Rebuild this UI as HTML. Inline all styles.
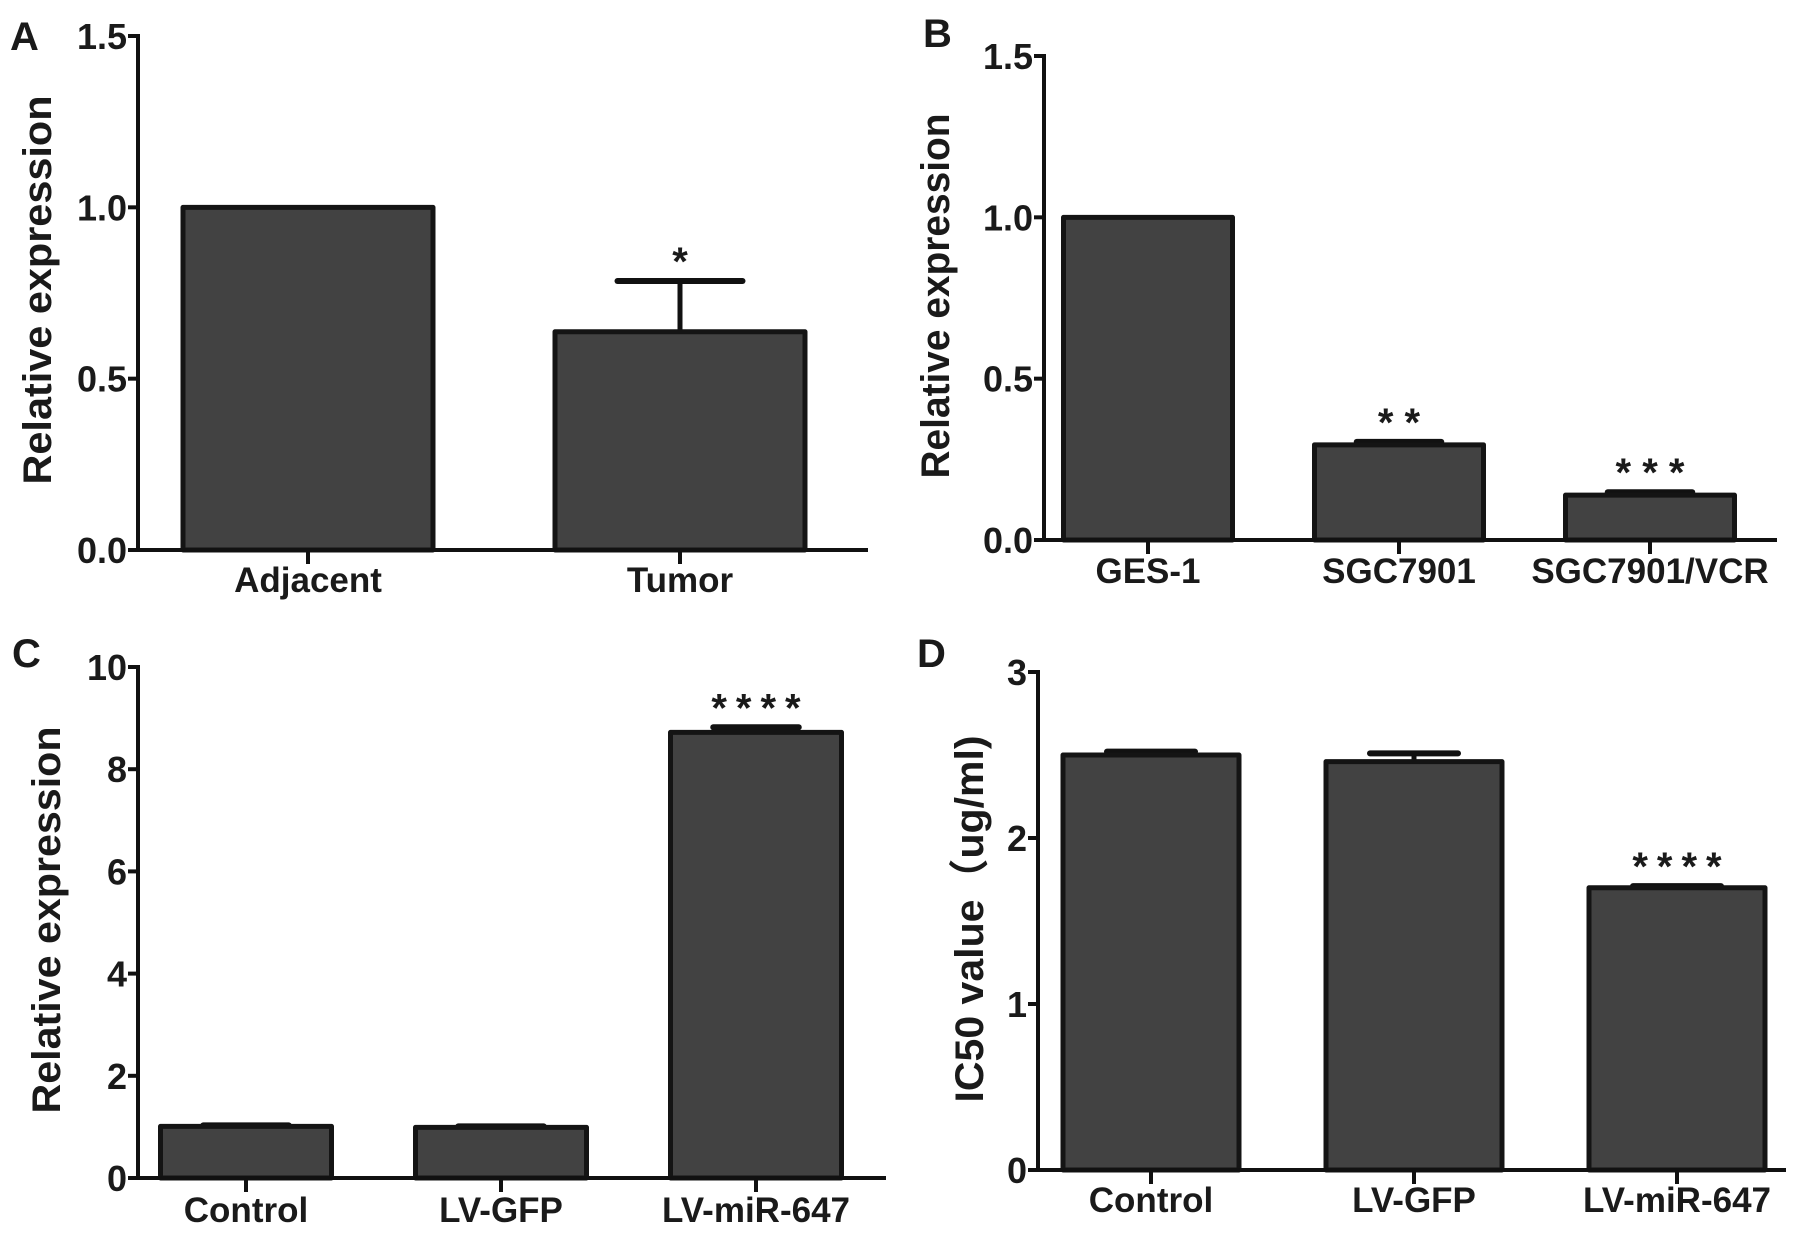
<!DOCTYPE html>
<html><head><meta charset="utf-8">
<style>
html,body{margin:0;padding:0;background:#fff;overflow:hidden;}
svg{display:block;}
text{font-family:"Liberation Sans","Noto Sans CJK SC",sans-serif;font-weight:bold;fill:#1a1a1a;}
</style></head>
<body>
<svg id="fig" width="1795" height="1235" viewBox="0 0 1795 1235"></svg>
<script>
// Panel A data
const aCategories = ["Adjacent", "Tumor"];
const aValues = [1.0, 0.637];
const aErrors = [0, 0.148];
const aStars = ["", "*"];
const aTicks = [0, 0.5, 1.0, 1.5];
const aTickLabels = ["0.0", "0.5", "1.0", "1.5"];
// Panel B data
const bCategories = ["GES-1", "SGC7901", "SGC7901/VCR"];
const bValues = [1.0, 0.295, 0.139];
const bErrors = [0, 0.009, 0.009];
const bStars = ["", "* *", "* * *"];
const bTicks = [0, 0.5, 1.0, 1.5];
const bTickLabels = ["0.0", "0.5", "1.0", "1.5"];
// Panel C data
const cCategories = ["Control", "LV-GFP", "LV-miR-647"];
const cValues = [1.01, 0.99, 8.72];
const cErrors = [0.02, 0.02, 0.1];
const cStars = ["", "", "****"];
const cTicks = [0, 2, 4, 6, 8, 10];
const cTickLabels = ["0", "2", "4", "6", "8", "10"];
// Panel D data
const dCategories = ["Control", "LV-GFP", "LV-miR-647"];
const dValues = [2.50, 2.46, 1.70];
const dErrors = [0.02, 0.05, 0.01];
const dStars = ["", "", "****"];
const dTicks = [0, 1, 2, 3];
const dTickLabels = ["0", "1", "2", "3"];

const NS = "http://www.w3.org/2000/svg";
const svg = document.getElementById("fig");
function mk(tag, attrs, parent){
  const e = document.createElementNS(NS, tag);
  for (const k in attrs) e.setAttribute(k, attrs[k]);
  (parent || svg).appendChild(e);
  return e;
}

function panel(id, cfg, cats, vals, errs, stars, ticks, tickLabels){
  const g = mk("g", {});
  
  
  const y = v => cfg.y0 - (v - cfg.min) / (cfg.max - cfg.min) * (cfg.y0 - cfg.yTop);
  const bw = cfg.bw;
  cats.forEach((c, i) => {
    const cx = cfg.firstCenter + i * cfg.step;
    const top = y(vals[i]);
    if (errs[i] > 0) {
      const et = y(vals[i] + errs[i]);
      const el = mk("line", {x1: cx, x2: cx, y1: top, y2: et, stroke: "#111", "stroke-width": 5}, g);
      
      
      const cap = mk("line", {x1: cx - bw/4, x2: cx + bw/4, y1: et, y2: et, stroke: "#111", "stroke-width": 6, "stroke-linecap": "round"}, g);
      
      
    }
    const r = mk("rect", {x: cx - bw/2, y: top, width: bw, height: cfg.y0 - top, fill: "#424242", stroke: "#141414", "stroke-width": 5, "stroke-linejoin": "round"}, g);
    
    
    if (stars[i]) {
      const st = mk("text", {x: cx + cfg.starLS / 2, y: y(vals[i] + errs[i]) + cfg.starOff, "text-anchor": "middle", "font-size": 40, "letter-spacing": cfg.starLS}, g);
      st.textContent = stars[i];
      
      
    }
    const tk = mk("line", {x1: cx, x2: cx, y1: cfg.y0, y2: cfg.y0 + 14, stroke: "#111", "stroke-width": 4}, g);
    
    
    const lb = mk("text", {x: cx, y: cfg.labY, "text-anchor": "middle", "font-size": 35}, g);
    lb.textContent = c;
    
    
  });
  const ya = mk("line", {x1: cfg.ax, x2: cfg.ax, y1: y(cfg.max) - 2, y2: cfg.y0 + 2, stroke: "#111", "stroke-width": 4}, g);
  
  
  const xa = mk("line", {x1: cfg.ax - 10, x2: cfg.xEnd, y1: cfg.y0, y2: cfg.y0, stroke: "#111", "stroke-width": 4}, g);
  
  
  ticks.forEach((t, i) => {
    const ty = y(t);
    const tl = mk("line", {x1: cfg.ax - 10, x2: cfg.ax, y1: ty, y2: ty, stroke: "#111", "stroke-width": 4}, g);
    
    
    const tt = mk("text", {x: cfg.ax - 11, y: ty + 13, "text-anchor": "end", "font-size": 36}, g);
    tt.textContent = tickLabels[i];
    
    
  });
  const ttl = mk("text", {x: 0, y: 0, "text-anchor": "middle", "font-size": 40, transform: `translate(${cfg.titleX},${cfg.titleY}) rotate(-90)`, textLength: cfg.titleLen, lengthAdjust: "spacingAndGlyphs"}, g);
  ttl.textContent = cfg.title;
  
  
  const pl = mk("text", {x: cfg.letX, y: cfg.letY, "font-size": 40}, g);
  pl.textContent = id;
  
  
}

panel("A", {ax:138, xEnd:868, y0:550, yTop:36, min:0, max:1.5, bw:250, firstCenter:308, step:372, labY:592, starOff:-6, starLS:0,
  titleX:51, titleY:290, titleLen:389, title:"Relative expression", letX:10, letY:50},
  aCategories, aValues, aErrors, aStars, aTicks, aTickLabels);
panel("B", {ax:1044, xEnd:1777, y0:540, yTop:56, min:0, max:1.5, bw:169, firstCenter:1148, step:251, labY:583, starOff:-6, starLS:0,
  titleX:949, titleY:296, titleLen:365, title:"Relative expression", letX:923, letY:47},
  bCategories, bValues, bErrors, bStars, bTicks, bTickLabels);
panel("C", {ax:138, xEnd:886, y0:1178, yTop:667, min:0, max:10, bw:171, firstCenter:246, step:255, labY:1222, starOff:-6, starLS:9,
  titleX:60, titleY:920, titleLen:387, title:"Relative expression", letX:12, letY:667},
  cCategories, cValues, cErrors, cStars, cTicks, cTickLabels);
panel("D", {ax:1038, xEnd:1786, y0:1170, yTop:672, min:0, max:3, bw:176, firstCenter:1151, step:263, labY:1212, starOff:-6, starLS:9,
  titleX:983, titleY:919, titleLen:367, title:"IC50 value（ug/ml)", letX:917, letY:667},
  dCategories, dValues, dErrors, dStars, dTicks, dTickLabels);
</script>
</body></html>
